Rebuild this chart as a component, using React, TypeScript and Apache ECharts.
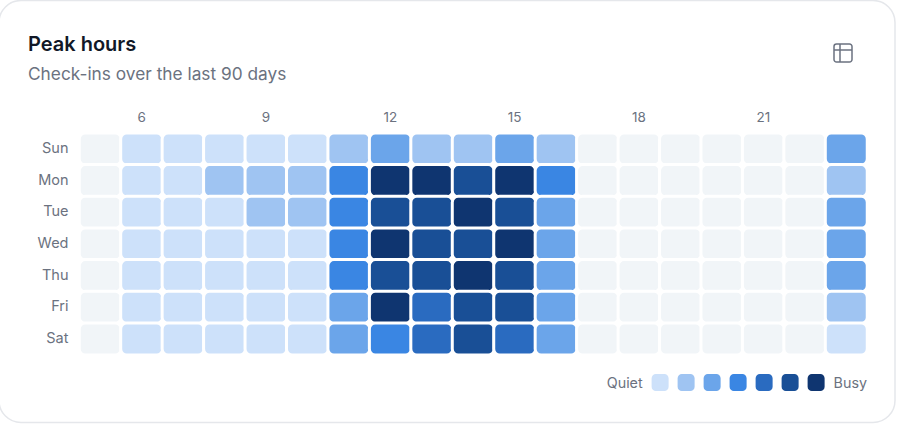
import React, { useEffect, useRef } from "react";
import * as echarts from "echarts";

const hours = ["5","6","7","8","9","10","11","12","13","14","15","16","17","18","19","20","21","22","23"];
const days = ["Sun","Mon","Tue","Wed","Thu","Fri","Sat"];
const sun = [0,1,1,1,1,1,2,3,2,2,3,2,0,0,0,0,0,0,3];
const mon = [0,1,1,2,2,2,4,7,7,6,7,4,0,0,0,0,0,0,2];
const tue = [0,1,1,1,2,2,4,6,6,7,6,3,0,0,0,0,0,0,3];
const wed = [0,1,1,1,1,1,4,7,6,6,7,3,0,0,0,0,0,0,3];
const thu = [0,1,1,1,1,1,4,6,6,7,6,3,0,0,0,0,0,0,3];
const fri = [0,1,1,1,1,1,3,7,5,6,6,3,0,0,0,0,0,0,2];
const sat = [0,1,1,1,1,1,3,4,5,6,5,3,0,0,0,0,0,0,1];
const rows = [sun, mon, tue, wed, thu, fri, sat];
const levelColors = ["#f1f5f8","#cde1fa","#9fc4f2","#6ba5ea","#3a86e3","#2a6bc0","#194f96","#0f3570"];
const FONT = "Inter";

export default function App() {
  const ref = useRef<HTMLDivElement>(null);
  useEffect(() => {
    const chart = echarts.init(ref.current!, undefined, { renderer: "svg" });
    const data: number[][] = [];
    rows.forEach((r, y) => r.forEach((v, x) => data.push([x, y, v])));
    chart.setOption({
      animation: false,
      textStyle: { fontFamily: FONT },
      title: {
        text: "Peak hours",
        subtext: "Check-ins over the last 90 days",
        left: 28,
        top: 33,
        padding: 0,
        itemGap: 8,
        textStyle: { fontFamily: FONT, fontSize: 20, fontWeight: 600, color: "#111827", lineHeight: 22 },
        subtextStyle: { fontFamily: FONT, fontSize: 17.3, color: "#6b7280", lineHeight: 20 },
      },
      grid: { left: 79.5, right: 33, top: 133.2, bottom: 70.2, containLabel: false },
      xAxis: {
        type: "category",
        data: hours,
        position: "top",
        axisLine: { show: false },
        axisTick: { show: false },
        splitLine: { show: false },
        axisLabel: {
          color: "#6b7280",
          fontSize: 13.5,
          fontFamily: FONT,
          margin: 9,
          interval: (_: number, v: string) => Number(v) % 3 === 0,
        },
      },
      yAxis: {
        type: "category",
        data: days,
        inverse: true,
        axisLine: { show: false },
        axisTick: { show: false },
        splitLine: { show: false },
        axisLabel: {
          margin: 11,
          formatter: (v: string) => `{d|${v}}`,
          rich: { d: { color: "#6b7280", fontSize: 14.5, fontFamily: FONT, padding: [0, 0, 3, 0] } },
        },
      },
      visualMap: {
        type: "piecewise",
        orient: "horizontal",
        right: 33,
        top: 374,
        padding: 0,
        itemWidth: 17,
        itemHeight: 17,
        itemGap: 9,
        itemSymbol: "roundRect",
        text: ["Busy", "Quiet"],
        textGap: 8,
        textStyle: { color: "#6b7280", fontSize: 14.3, fontFamily: FONT },
        hoverLink: false,
        selectedMode: false,
        dimension: 2,
        pieces: levelColors.slice(1).map((color, i) => ({ value: i + 1, color })),
        outOfRange: { color: levelColors[0] },
      },
      series: [
        {
          type: "heatmap",
          data,
          itemStyle: { borderColor: "#ffffff", borderWidth: 3, borderRadius: 6 },
          emphasis: { disabled: true },
        },
      ],
      graphic: [
        {
          type: "rect",
          z: -10,
          silent: true,
          shape: { x: -1, y: 0.5, width: 896, height: 422, r: 22 },
          style: { fill: "#ffffff", stroke: "#e5e7eb", lineWidth: 1.5 },
        },
        {
          type: "group",
          silent: true,
          children: [
            { type: "rect", shape: { x: 834, y: 44, width: 18, height: 18, r: 2.5 }, style: { fill: "none", stroke: "#6b7280", lineWidth: 1.5 } },
            { type: "line", shape: { x1: 834, y1: 50, x2: 852, y2: 50 }, style: { stroke: "#6b7280", lineWidth: 1.5 } },
            { type: "line", shape: { x1: 840, y1: 44, x2: 840, y2: 62 }, style: { stroke: "#6b7280", lineWidth: 1.5 } },
          ],
        },
      ],
    });
    return () => chart.dispose();
  }, []);
  return <div ref={ref} style={{ position: "absolute", left: 0, top: 0, width: 900, height: 425 }} />;
}
